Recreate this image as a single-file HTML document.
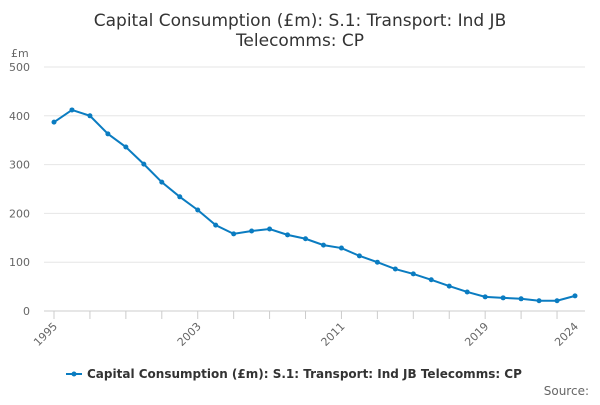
<!DOCTYPE html>
<html><head><meta charset="utf-8"><style>
body{margin:0;background:#fff;font-family:"Liberation Sans","DejaVu Sans",sans-serif}
svg text{font-family:"DejaVu Sans","Liberation Sans",sans-serif}
</style></head><body>
<svg id="c" width="600" height="400" xmlns="http://www.w3.org/2000/svg">
<text x="300" y="26" text-anchor="middle" font-size="17" fill="#333">Capital Consumption (£m): S.1: Transport: Ind JB</text>
<text x="300" y="46" text-anchor="middle" font-size="17" fill="#333">Telecomms: CP</text>
<text x="11" y="57" font-size="11" fill="#666">£m</text>
<g id="grid"></g><g id="xt"></g><g id="series"></g>
<g>
<line x1="66" y1="374" x2="82" y2="374" stroke="#0a7cc1" stroke-width="2"/>
<circle cx="74" cy="374" r="2.5" fill="#0a7cc1"/>
<text x="87" y="378" font-size="12" font-weight="bold" fill="#333">Capital Consumption (£m): S.1: Transport: Ind JB Telecomms: CP</text>
</g>
<text x="589" y="395" text-anchor="end" font-size="12" fill="#666">Source:</text>
</svg>
<script>
const years=[1995,1996,1997,1998,1999,2000,2001,2002,2003,2004,2005,2006,2007,2008,2009,2010,2011,2012,2013,2014,2015,2016,2017,2018,2019,2020,2021,2022,2023,2024];
const values=[387,412,400,363,336,301,264,234,207,176,158,164,168,156,148,135,129,113,100,86,76,64,51,39,29,27,25,21,21,31];
const yTicks=[0,100,200,300,400,500];
const xLabels=[1995,2003,2011,2019,2024];
const NS="http://www.w3.org/2000/svg";
const x0=54,x1=575,yb=311,yt=67;
const X=y=>x0+(y-1995)*(x1-x0)/(2024-1995);
const Y=v=>yb-v*(yb-yt)/500;
function mk(t,a,p){const e=document.createElementNS(NS,t);for(const k in a)e.setAttribute(k,a[k]);p.appendChild(e);return e;}
const g=document.getElementById('grid');
yTicks.forEach(v=>{
 const l=mk('line',{x1:44,x2:585,y1:Y(v),y2:Y(v),stroke:v===0?'#ccc':'#e6e6e6'},g);
 
 
 const t=mk('text',{x:30,y:Y(v)+4,'text-anchor':'end','font-size':11,fill:'#666'},g);
 t.textContent=v;
 
 
});
const xt=document.getElementById('xt');
for(let yr=1995;yr<=2024;yr+=2){
 const l=mk('line',{x1:X(yr),x2:X(yr),y1:yb,y2:yb+8,stroke:'#ccc'},xt);
 
 
}
xLabels.forEach(yr=>{
 const t=mk('text',{x:X(yr)+4,y:yb+16,'text-anchor':'end','font-size':11,fill:'#666',transform:`rotate(-45 ${X(yr)+4} ${yb+16})`},xt);
 t.textContent=yr;
 
 
});
const s=document.getElementById('series');
const p=mk('polyline',{points:years.map((y,i)=>X(y)+','+Y(values[i])).join(' '),fill:'none',stroke:'#0a7cc1','stroke-width':2},s);


years.forEach((y,i)=>{
 const c=mk('circle',{cx:X(y),cy:Y(values[i]),r:2.5,fill:'#0a7cc1'},s);
 
 
});
</script>
</body></html>
